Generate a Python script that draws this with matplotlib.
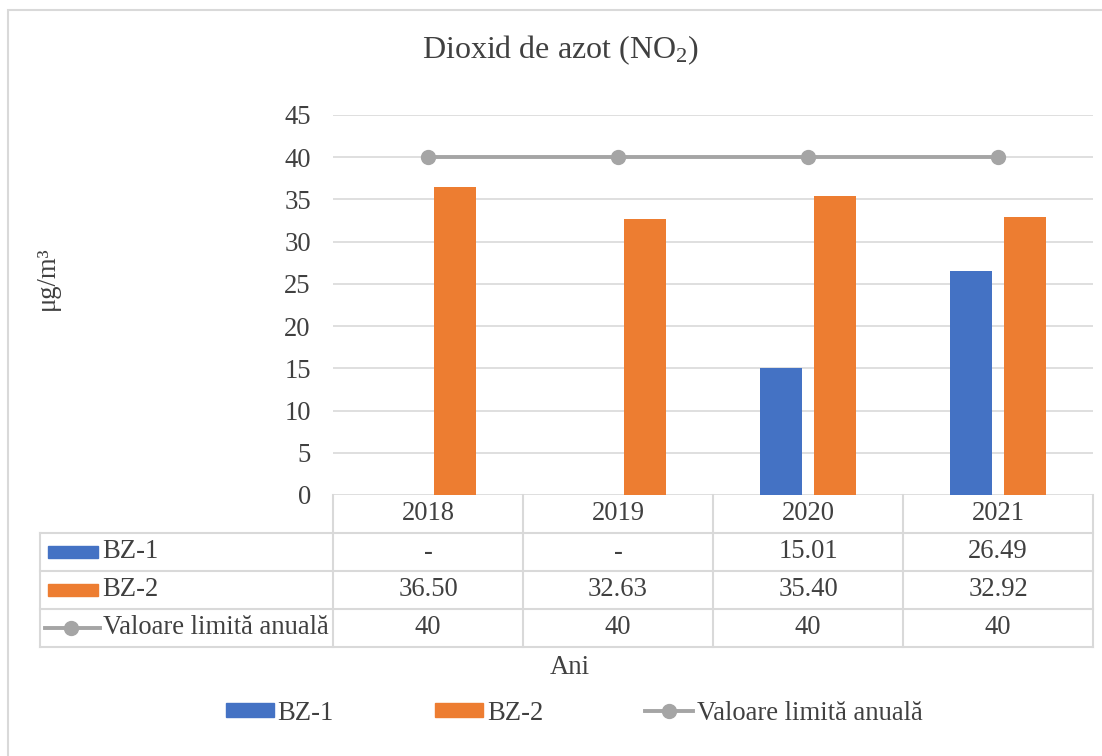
import numpy as np
import matplotlib
matplotlib.use("Agg")
import matplotlib.pyplot as plt
import matplotlib.transforms as mtransforms
from matplotlib.patches import Patch, Rectangle
from matplotlib.lines import Line2D

# date
years = ["2018", "2019", "2020", "2021"]
bz1 = [None, None, 15.01, 26.49]
bz2 = [36.50, 32.63, 35.40, 32.92]
limita = [40, 40, 40, 40]
names = ["BZ-1", "BZ-2", "Valoare limită anuală"]

BLUE = "#4472C4"
ORANGE = "#ED7D31"
GRAY = "#A5A5A5"
GRID = "#D9D9D9"
TXT = "#404040"
FS = 19.2

plt.rcParams['font.family'] = ['Liberation Serif', 'DejaVu Serif']
plt.rcParams['mathtext.fontset'] = 'custom'
plt.rcParams['mathtext.rm'] = 'Liberation Serif'
plt.rcParams['mathtext.it'] = 'Liberation Serif:italic'

W, H = 1102, 756
fig = plt.figure(figsize=(W / 100, H / 100), dpi=100)
ax = fig.add_axes([333 / W, 1 - 495 / H, 760 / W, 380 / H])

x = np.arange(len(years))
w = 0.22
off = 0.143
for i, v in enumerate(bz1):
    if v is not None:
        ax.bar(x[i] - off, v, w, color=BLUE, zorder=3)
ax.bar(x + off, bz2, w, color=ORANGE, zorder=3)
ax.plot(x, limita, color=GRAY, lw=2.8, marker='o', ms=10, zorder=4)

ax.set_xlim(-0.5, 3.5)
ax.set_ylim(0, 45)
ax.set_yticks(np.arange(0, 46, 5))
ax.set_xticks([])
ax.grid(axis='y', color=GRID, lw=1.2, zorder=0)
for s in ax.spines.values():
    s.set_visible(False)
ax.tick_params(axis='y', length=0, pad=16, labelsize=FS, labelcolor=TXT)

# tabel de date sub grafic
tr = mtransforms.blended_transform_factory(ax.transData, ax.transAxes)
x_left = -0.5 - (333 - 40) / 190
rh = 0.1
lkw = dict(color=GRID, lw=1.5, transform=tr, clip_on=False)
for k in range(1, 5):
    ax.plot([x_left, 3.5], [-k * rh, -k * rh], **lkw)
for xv in np.arange(-0.5, 3.6, 1):
    ax.plot([xv, xv], [0, -4 * rh], **lkw)
ax.plot([x_left, x_left], [-rh, -4 * rh], **lkw)

for i, yr in enumerate(years):
    ax.text(i, -0.5 * rh, yr, ha='center', va='center', fontsize=FS, color=TXT,
            transform=tr)
rows = [["-" if v is None else f"{v:.2f}" for v in bz1],
        [f"{v:.2f}" for v in bz2],
        [f"{v:g}" for v in limita]]
for r, vals in enumerate(rows):
    yc = -(r + 1.5) * rh
    for i, s in enumerate(vals):
        ax.text(i, yc, s, ha='center', va='center', fontsize=FS, color=TXT,
                transform=tr)
    ax.text(-1.712, yc, names[r], ha='left', va='center', fontsize=FS,
            color=TXT, transform=tr)

kx0 = (48 - 333) / 190 - 0.5
kx1 = (98 - 333) / 190 - 0.5
kh = 12 / 380
for r, c in enumerate([BLUE, ORANGE]):
    yc = -(r + 1.5) * rh
    ax.add_patch(Rectangle((kx0, yc - kh / 2), kx1 - kx0, kh, color=c,
                           transform=tr, clip_on=False))
yc = -3.5 * rh
ax.plot([(45 - 333) / 190 - 0.5, (100 - 333) / 190 - 0.5], [yc, yc], color=GRAY,
        lw=2.8, transform=tr, clip_on=False)
ax.plot([(71 - 333) / 190 - 0.5], [yc], 'o', color=GRAY, ms=10, transform=tr,
        clip_on=False)

# texte
fig.text(560 / W, 1 - 50 / H, "Dioxid de azot (NO$_2$)", ha='center', va='center',
         fontsize=23, color=TXT)
fig.text(47 / W, 1 - 278 / H, "μg/m³", rotation=90, ha='center', va='center',
         fontsize=FS, color=TXT)
fig.text(570 / W, 1 - 668 / H, "Ani", ha='center', va='center', fontsize=FS,
         color=TXT)

handles = [Patch(color=BLUE), Patch(color=ORANGE),
           Line2D([], [], color=GRAY, lw=2.8, marker='o', ms=10)]
fig.legend(handles, names, loc='center', bbox_to_anchor=(574 / W, 1 - 713 / H),
           ncol=3, frameon=False, fontsize=FS, handlelength=1.8,
           handleheight=0.45, handletextpad=0.15, columnspacing=3.8,
           labelcolor=TXT)

fig.patches.append(Rectangle((8 / W, -0.1), 1.2, (H - 10) / H + 0.1,
                             transform=fig.transFigure, fill=False,
                             edgecolor=GRID, lw=1.5))

fig.savefig("out.png", dpi=100)
